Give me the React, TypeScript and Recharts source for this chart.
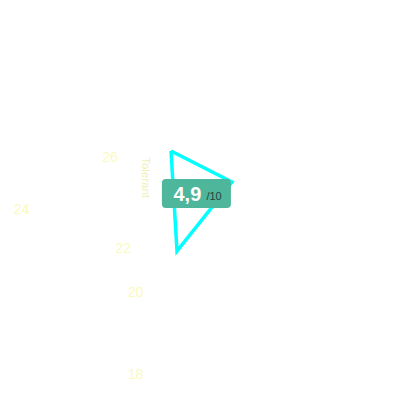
import { ScatterChart, Scatter, XAxis, YAxis, LabelList } from "recharts";

// plot units: 0..100 on both axes (y grows upward)
const profileX = [42.75, 58, 44.25, 42.75];
const profileY = [62.25, 54.5, 37.25, 62.25];

const tickValues = [26, 24, 22, 20, 18];
const tickX = [27.5, 5.4, 30.75, 33.9, 33.9];
const tickY = [60.75, 47.75, 38, 27, 6.5];

const axisTitle = "Tolerant";
const axisTitleX = 36.6;
const axisTitleY = 55.6;

const score = 4.9;
const scoreMax = 10;
const scoreX = 49.1;
const scoreY = 51.6;

const profile = profileX.map((x, i) => ({ x, y: profileY[i] }));
const ticks = tickValues.map((v, i) => ({ x: tickX[i], y: tickY[i], v }));
const title = [{ x: axisTitleX, y: axisTitleY, t: axisTitle }];
const badge = [{ x: scoreX, y: scoreY, s: score }];

const FONT = "'Liberation Sans', Arial, sans-serif";

const Empty = () => <g />;

const ScoreBadge = (props: any) => {
  const { cx, cy, payload } = props;
  const w = 69;
  const h = 29;
  return (
    <g>
      <rect
        x={cx - w / 2}
        y={cy - h / 2}
        width={w}
        height={h}
        rx={4}
        fill="#4db69b"
      />
      <text
        x={cx - 9}
        y={cy + 7}
        textAnchor="middle"
        fill="#ffffff"
        fontSize={20}
        fontWeight="bold"
        fontFamily={FONT}
      >
        {payload.s.toFixed(1).replace(".", ",")}
      </text>
      <text
        x={cx + 10}
        y={cy + 6}
        fill="#24453c"
        fontSize={11}
        fontFamily={FONT}
      >
        /{scoreMax}
      </text>
    </g>
  );
};

export default function App() {
  return (
    <div style={{ position: "absolute", left: 0, top: 0, background: "#fff" }}>
      <ScatterChart
        width={400}
        height={400}
        margin={{ top: 0, right: 0, bottom: 0, left: 0 }}
      >
        <XAxis type="number" dataKey="x" domain={[0, 100]} hide />
        <YAxis type="number" dataKey="y" domain={[0, 100]} hide />
        <Scatter
          data={profile}
          line={{ stroke: "#00ffff", strokeWidth: 3.5, strokeLinejoin: "miter" }}
          shape={Empty}
          isAnimationActive={false}
        />
        <Scatter data={ticks} shape={Empty} isAnimationActive={false}>
          <LabelList
            dataKey="v"
            position="center"
            fill="#fafabe"
            fontSize={14}
            fontFamily={FONT}
          />
        </Scatter>
        <Scatter data={title} shape={Empty} isAnimationActive={false}>
          <LabelList
            dataKey="t"
            position="center"
            angle={90}
            fill="#f0f0b8"
            fontSize={11.5}
            fontFamily={FONT}
          />
        </Scatter>
        <Scatter data={badge} shape={ScoreBadge} isAnimationActive={false} />
      </ScatterChart>
    </div>
  );
}
